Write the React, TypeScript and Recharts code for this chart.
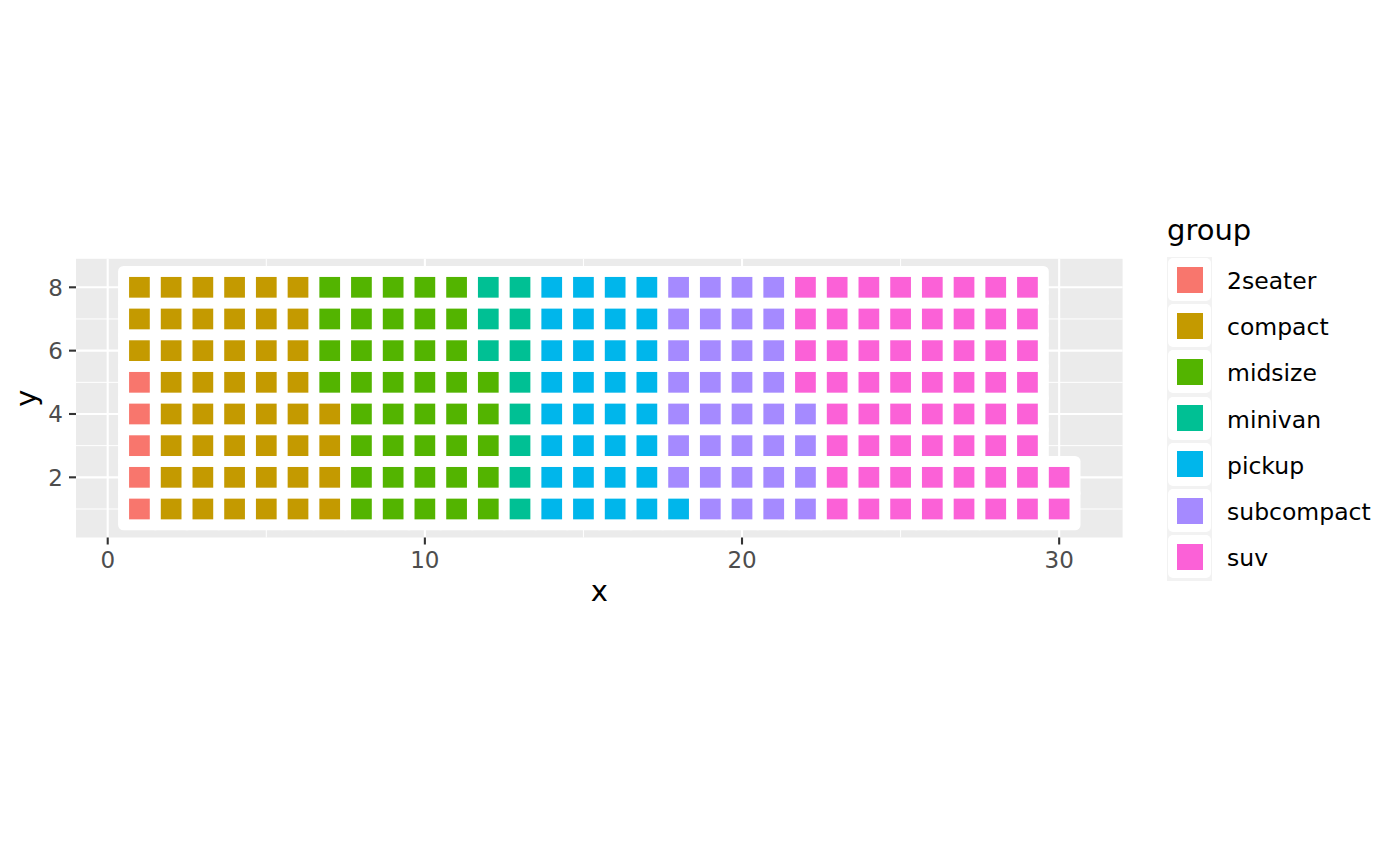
import { CartesianGrid, Label, Scatter, ScatterChart, XAxis, YAxis } from 'recharts'

const GROUPS = ['2seater', 'compact', 'midsize', 'minivan', 'pickup', 'subcompact', 'suv']
const COUNTS = [5, 47, 41, 11, 33, 35, 62]
const COLORS = ['#F8766D', '#C49A00', '#53B400', '#00C094', '#00B6EB', '#A58AFF', '#FB61D7']
const ROWS = 8

const X_TICKS = [0, 10, 20, 30]
const X_MINOR = [5, 15, 25]
const Y_TICKS = [2, 4, 6, 8]
const Y_MINOR = [1, 3, 5, 7]

const FONT = '"DejaVu Sans", sans-serif'

// plot area in px
const PLOT = { left: 76, top: 258.8, right: 1122.6, bottom: 537.5 }
const X_DOMAIN = [-1, 32]
const Y_DOMAIN = [0.1, 8.9]
const UNIT = (PLOT.right - PLOT.left) / (X_DOMAIN[1] - X_DOMAIN[0])
const BORDER = 11 // white tile outline width

// cells filled column by column from the bottom, ROWS per column
const cells: { x: number; y: number; group: number }[] = []
COUNTS.forEach((n, g) => {
  for (let k = 0; k < n; k++) {
    const i = cells.length
    cells.push({ x: Math.floor(i / ROWS) + 1, y: (i % ROWS) + 1, group: g })
  }
})

const WhiteTile = (props: any) => {
  const { cx, cy } = props
  const s = UNIT + BORDER
  return <rect x={cx - s / 2} y={cy - s / 2} width={s} height={s} rx={BORDER / 2} fill="#FFFFFF" />
}

const ColorTile = (color: string) => (props: any) => {
  const { cx, cy } = props
  const s = UNIT - BORDER
  return <rect x={cx - s / 2} y={cy - s / 2} width={s} height={s} fill={color} />
}

const XTick = (props: any) => (
  <text x={props.x} y={567.7} textAnchor="middle" fontSize={23} fill="#4D4D4D" fontFamily={FONT}>
    {props.payload.value}
  </text>
)

const YTick = (props: any) => (
  <text x={63} y={props.y + 8.2} textAnchor="end" fontSize={23} fill="#4D4D4D" fontFamily={FONT}>
    {props.payload.value}
  </text>
)

function GroupLegend() {
  const pitch = 46.2
  return (
    <div style={{ position: 'absolute', left: 1167, top: 210, fontFamily: FONT }}>
      <div style={{ fontSize: 29, color: '#000', height: 47, lineHeight: '40px' }}>group</div>
      <div style={{ position: 'relative', width: 45, height: pitch * GROUPS.length + 1, background: '#F2F2F2' }}>
        {GROUPS.map((g, i) => (
          <div key={g}>
            <div
              style={{
                position: 'absolute',
                left: 1,
                top: 1 + i * pitch,
                width: 43,
                height: 43,
                borderRadius: 5,
                background: '#FFFFFF',
              }}
            />
            <div
              style={{
                position: 'absolute',
                left: 9.5,
                top: 9.5 + i * pitch,
                width: 26,
                height: 26,
                background: COLORS[i],
              }}
            />
            <div
              style={{
                position: 'absolute',
                left: 60,
                top: 2 + i * pitch,
                height: 45,
                lineHeight: '45px',
                fontSize: 23.5,
                color: '#000',
                whiteSpace: 'nowrap',
              }}
            >
              {g}
            </div>
          </div>
        ))}
      </div>
    </div>
  )
}

export default function App() {
  return (
    <div style={{ position: 'absolute', left: 0, top: 0, width: 1400, height: 866, background: '#fff' }}>
      <ScatterChart
        width={1400}
        height={866}
        margin={{ top: PLOT.top, right: 1400 - PLOT.right, bottom: 866 - PLOT.bottom - 60, left: 0 }}
      >
        <CartesianGrid
          fill="#EBEBEB"
          stroke="#FFFFFF"
          strokeWidth={1}
          horizontalValues={Y_MINOR}
          verticalValues={X_MINOR}
        />
        <CartesianGrid
          fill="none"
          stroke="#FFFFFF"
          strokeWidth={2.1}
          horizontalValues={Y_TICKS}
          verticalValues={X_TICKS}
        />
        <XAxis
          type="number"
          dataKey="x"
          domain={X_DOMAIN}
          ticks={X_TICKS}
          allowDataOverflow
          axisLine={false}
          tickSize={7}
          tickLine={{ stroke: '#333333', strokeWidth: 2.1 }}
          tick={XTick}
          height={60}
        >
          <Label
            content={() => (
              <text x={(PLOT.left + PLOT.right) / 2} y={601} textAnchor="middle" fontSize={29} fontFamily={FONT} fill="#000">
                x
              </text>
            )}
          />
        </XAxis>
        <YAxis
          type="number"
          dataKey="y"
          domain={Y_DOMAIN}
          ticks={Y_TICKS}
          allowDataOverflow
          axisLine={false}
          tickSize={7}
          tickLine={{ stroke: '#333333', strokeWidth: 2.1 }}
          tick={YTick}
          width={PLOT.left}
        >
          <Label
            content={() => (
              <text
                x={36}
                y={(PLOT.top + PLOT.bottom) / 2}
                textAnchor="middle"
                fontSize={29}
                fontFamily={FONT}
                fill="#000"
                transform={`rotate(-90 36 ${(PLOT.top + PLOT.bottom) / 2})`}
              >
                y
              </text>
            )}
          />
        </YAxis>
        <Scatter data={cells} shape={WhiteTile} isAnimationActive={false} />
        {GROUPS.map((g, gi) => (
          <Scatter
            key={g}
            name={g}
            data={cells.filter((c) => c.group === gi)}
            shape={ColorTile(COLORS[gi])}
            isAnimationActive={false}
          />
        ))}
      </ScatterChart>
      <GroupLegend />
    </div>
  )
}
